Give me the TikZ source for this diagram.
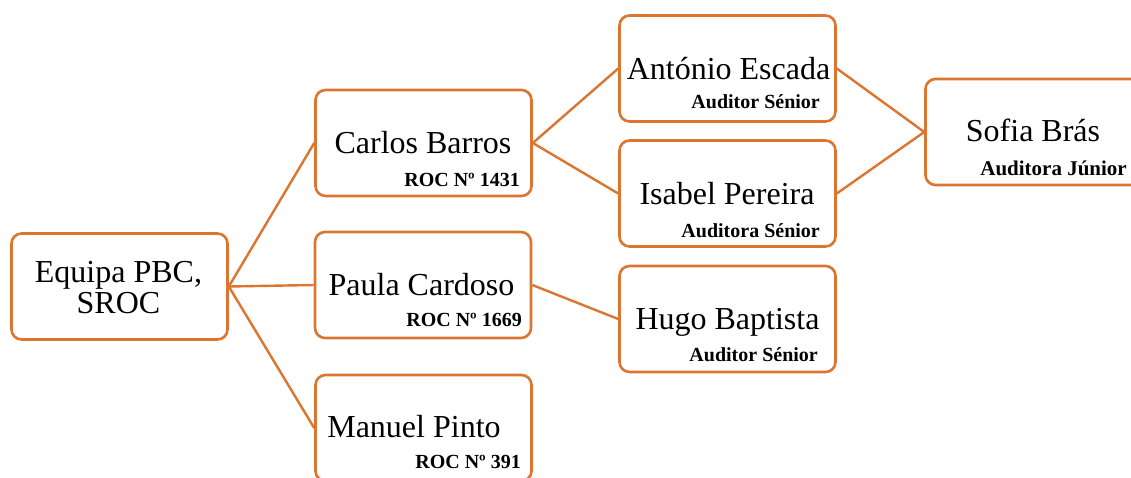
\documentclass[tikz,border=0pt]{standalone}
\usepackage{fontspec}
\setmainfont{Liberation Serif}
\definecolor{edgeor}{RGB}{219,117,48}
\tikzset{
  box/.style={draw=edgeor, line width=2.6pt, rounded corners=10pt, fill=white,
    minimum width=216pt, minimum height=106pt, inner sep=0pt},
  conn/.style={draw=edgeor, line width=2.4pt},
  nm/.style={anchor=base, inner sep=0pt, font=\fontsize{32}{34}\selectfont},
  sub/.style={anchor=base east, inner sep=0pt, font=\fontsize{20}{22}\selectfont\bfseries},
}
\begin{document}
\begin{tikzpicture}[x=1pt,y=-1pt]
\useasboundingbox (0,0) rectangle (1131,477);
\clip (0,0) rectangle (1131,477);
% boxes
\node[box] (equipa) at (119.5,286.5) {};
\node[box] (carlos) at (423.5,143) {};
\node[box] (paula) at (423,285) {};
\node[box] (manuel) at (423.5,428) {};
\node[box] (antonio) at (727.5,68.5) {};
\node[box] (isabel) at (727.5,193.5) {};
\node[box] (hugo) at (727.5,319) {};
\node[box] (sofia) at (1033.5,132) {};
% connectors
\draw[conn] (equipa.east) -- (carlos.west);
\draw[conn] (equipa.east) -- (paula.west);
\draw[conn] (equipa.east) -- (manuel.west);
\draw[conn] (carlos.east) -- (antonio.west);
\draw[conn] (carlos.east) -- (isabel.west);
\draw[conn] (paula.east) -- (hugo.west);
\draw[conn] (antonio.east) -- (sofia.west);
\draw[conn] (isabel.east) -- (sofia.west);
% texts
\node[nm] (equipa1) at (118.5,282) {Equipa PBC,};
\node[nm] (equipa2) at (118.5,313) {SROC};
\node[nm] (carlosn) at (423,153) {Carlos Barros};
\node[sub] (carloss) at (520,186) {ROC Nº 1431};
\node[nm] (paulan) at (421.5,295) {Paula Cardoso};
\node[sub] (paulas) at (522,326) {ROC Nº 1669};
\node[nm] (manueln) at (414,437) {Manuel Pinto};
\node[sub] (manuels) at (521,468) {ROC Nº 391};
\node[nm] (antonion) at (728.5,79) {António Escada};
\node[sub] (antonios) at (820,108) {Auditor Sénior};
\node[nm] (isabeln) at (727,204) {Isabel Pereira};
\node[sub] (isabels) at (820,237) {Auditora Sénior};
\node[nm] (hugon) at (727.5,329) {Hugo Baptista};
\node[sub] (hugos) at (818,361) {Auditor Sénior};
\node[nm] (sofian) at (1033,141) {Sofia Brás};
\node[sub, font=\fontsize{21}{23}\selectfont\bfseries] (sofias) at (1127,175) {Auditora Júnior};
\end{tikzpicture}
\end{document}
